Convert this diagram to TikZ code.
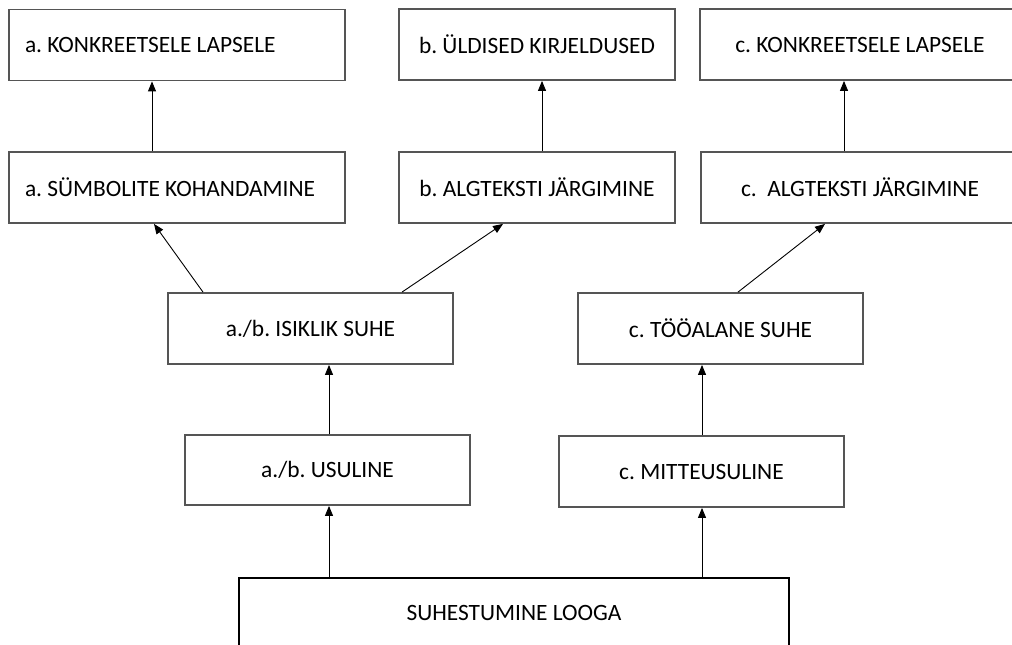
\documentclass[tikz,border=0pt]{standalone}
\usepackage{fontspec}
\setmainfont{Carlito}
\frenchspacing
\usetikzlibrary{arrows.meta}
\definecolor{boxgray}{HTML}{555555}
\tikzset{box/.style={draw=boxgray, line width=1.8pt, fill=white, minimum height=71pt, inner sep=0pt, font=\fontsize{23.4}{28}\selectfont},
  lbox/.style={box, text width=304pt, inner sep=16pt, align=flush left},
  arr/.style={-{Triangle[length=10pt,width=8pt]}, line width=0.9pt, black}}

\begin{document}
\begin{tikzpicture}[x=1pt,y=-1pt]
   \useasboundingbox (0,0) rectangle (1012,645);
   % top row
   \node[lbox] (a1) at (177,45) {a. KONKREETSELE LAPSELE};
   \node[box, minimum width=276pt] (b1) at (537,44.5) {b. ÜLDISED KIRJELDUSED};
   \node[box, minimum width=320pt] (c1) at (860,44.5) {c. KONKREETSELE LAPSELE};
   % second row
   \node[lbox] (a2) at (177,187.5) {a. SÜMBOLITE KOHANDAMINE};
   \node[box, minimum width=276pt] (b2) at (537,187.5) {b. ALGTEKSTI JÄRGIMINE};
   \node[box, minimum width=318pt] (c2) at (860,187.5) {c.\ \ ALGTEKSTI JÄRGIMINE};
   % relations
   \node[box, minimum width=285pt] (isik) at (310.5,328.5) {a./b. ISIKLIK SUHE};
   \node[box, minimum width=285pt] (too) at (720.5,328.5) {c. TÖÖALANE SUHE};
   \node[box, minimum width=285pt, minimum height=70pt] (usu) at (327.5,470) {a./b. USULINE};
   \node[box, minimum width=285pt] (mitte) at (701.5,471.5) {c. MITTEUSULINE};
   \node[box, draw=black, minimum width=550pt, minimum height=70pt] (root) at (514,613) {SUHESTUMINE LOOGA};

   \draw[arr] ([xshift=-25pt]a2.north) -- ([xshift=-25pt]a1.south);
   \draw[arr] ([xshift=5pt]b2.north) -- ([xshift=5pt]b1.south);
   \draw[arr] ([xshift=-16pt]c2.north) -- ([xshift=-16pt]c1.south);
   \draw[arr] ([xshift=-107.5pt]isik.north) -- ([xshift=-23pt]a2.south);
   \draw[arr] ([xshift=91.5pt]isik.north) -- ([xshift=-34pt]b2.south);
   \draw[arr] ([xshift=17.5pt]too.north) -- ([xshift=-35pt]c2.south);
   \draw[arr] ([xshift=1.5pt]usu.north) -- ([xshift=18.5pt]isik.south);
   \draw[arr] ([xshift=0.5pt]mitte.north) -- ([xshift=-18.5pt]too.south);
   \draw[arr] ([xshift=-185pt]root.north) -- ([xshift=1.5pt]usu.south);
   \draw[arr] ([xshift=188pt]root.north) -- ([xshift=0.5pt]mitte.south);
\end{tikzpicture}
\end{document}
